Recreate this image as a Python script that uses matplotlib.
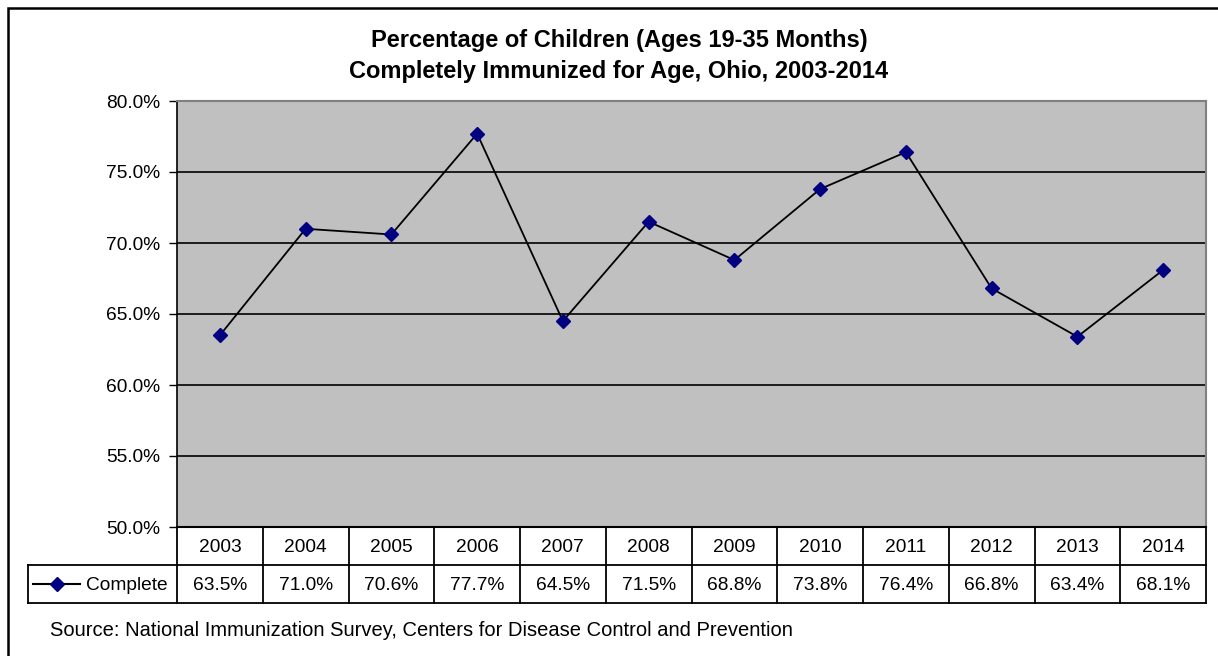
import matplotlib
matplotlib.use('Agg')
import matplotlib.pyplot as plt
from matplotlib.transforms import blended_transform_factory
from matplotlib.patches import Rectangle

plt.rcParams['font.family'] = ['Liberation Sans', 'DejaVu Sans']

# data
years = ['2003', '2004', '2005', '2006', '2007', '2008',
         '2009', '2010', '2011', '2012', '2013', '2014']
complete = [63.5, 71.0, 70.6, 77.7, 64.5, 71.5, 68.8, 73.8, 76.4, 66.8, 63.4, 68.1]
series_name = 'Complete'
y_ticks = [50, 55, 60, 65, 70, 75, 80]

title_lines = ['Percentage of Children (Ages 19-35 Months)',
               'Completely Immunized for Age, Ohio, 2003-2014']
source = 'Source: National Immunization Survey, Centers for Disease Control and Prevention'

W, H = 1218, 656
fig = plt.figure(figsize=(W / 100, H / 100), dpi=100)
fig.patch.set_facecolor('white')


def fx(px):
    return px / W


def fy(py):
    return 1 - py / H


# plot area in pixels
L, R, T, B = 177, 1206, 101, 527
ROW1, ROW2 = 565, 603
LBL_L = 28
FS = 13.8

ax = fig.add_axes([fx(L), fy(B), fx(R - L), fy(T) - fy(B)])
ax.set_facecolor('#C0C0C0')
x = list(range(len(years)))
ax.plot(x, complete, color='black', linewidth=1.3, marker='D', markersize=7.5,
        markerfacecolor='#000080', markeredgecolor='#000080', zorder=3)
ax.set_xlim(-0.5, len(years) - 0.5)
ax.set_ylim(50, 80)
ax.set_yticks(y_ticks)
ax.set_yticklabels([f'{v:.1f}%' for v in y_ticks], fontsize=FS)
ax.set_xticks([])
ax.tick_params(axis='y', length=6, width=1, direction='out', pad=6)
for v in y_ticks[1:-1]:
    ax.axhline(v, color='black', linewidth=1.2, zorder=1)
for s in ['top', 'right']:
    ax.spines[s].set_color('#808080')
    ax.spines[s].set_linewidth(1.5)
ax.spines['left'].set_linewidth(1.2)
ax.spines['bottom'].set_linewidth(1.5)

# title
fig.text(fx(619), fy(47), title_lines[0], ha='center', va='baseline', fontsize=17,
         fontweight='bold')
fig.text(fx(619), fy(78), title_lines[1], ha='center', va='baseline', fontsize=17,
         fontweight='bold')

# data table
tr = blended_transform_factory(ax.transData, fig.transFigure)
lw = 1.3
n = len(years)
for i in range(n + 1):
    xb = i - 0.5
    ax.plot([xb, xb], [fy(B), fy(ROW2)], color='black', lw=lw, transform=tr, clip_on=False)
for yy in [ROW1, ROW2]:
    fig.add_artist(plt.Line2D([fx(LBL_L), fx(R)], [fy(yy), fy(yy)], color='black', lw=lw))
fig.add_artist(plt.Line2D([fx(LBL_L), fx(LBL_L)], [fy(ROW1), fy(ROW2)], color='black', lw=lw))

for i, (yr, v) in enumerate(zip(years, complete)):
    ax.text(i, (fy(B) + fy(ROW1)) / 2 - 0.002, yr, transform=tr, ha='center', va='center',
            fontsize=FS)
    ax.text(i, (fy(ROW1) + fy(ROW2)) / 2 - 0.002, f'{v:.1f}%', transform=tr, ha='center',
            va='center', fontsize=FS)

# legend key in table
ymid = (fy(ROW1) + fy(ROW2)) / 2
fig.add_artist(plt.Line2D([fx(33), fx(80)], [ymid, ymid], color='black', lw=1.5))
fig.add_artist(plt.Line2D([fx(57)], [ymid], marker='D', markersize=7.5, color='#000080',
                          linestyle='none'))
fig.text(fx(86), ymid - 0.002, series_name, ha='left', va='center', fontsize=FS)

# source
fig.text(fx(50), fy(630), source, ha='left', va='center', fontsize=14.5)

# outer border
fig.add_artist(Rectangle((fx(8), -0.1), 1.0, fy(8) + 0.1, fill=False,
                         edgecolor='black', linewidth=1.8, transform=fig.transFigure))

fig.savefig('out.png', dpi=100, facecolor='white')
